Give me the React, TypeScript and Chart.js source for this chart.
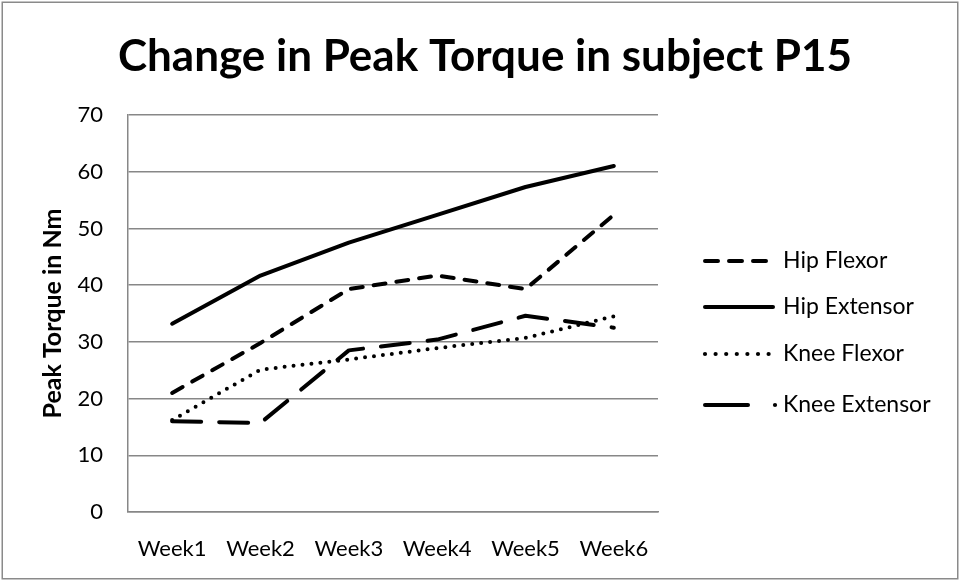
import React, { useEffect, useRef } from "react";
import { Chart, registerables } from "chart.js";

Chart.register(...registerables);

const TITLE = "Change in Peak Torque in subject P15";
const Y_TITLE = "Peak Torque in Nm";
const WEEKS = ["Week1", "Week2", "Week3", "Week4", "Week5", "Week6"];
const SERIES_NAMES = ["Hip Flexor", "Hip Extensor", "Knee Flexor", "Knee Extensor"];
const HIP_FLEXOR = [21.0, 29.8, 39.3, 41.7, 39.3, 52.4];
const HIP_EXTENSOR = [33.2, 41.7, 47.5, 52.4, 57.3, 61.0];
const KNEE_FLEXOR = [16.2, 25.1, 26.9, 28.9, 30.7, 34.5];
const KNEE_EXTENSOR = [16.0, 15.7, 28.5, 30.4, 34.6, 32.5];
const Y_MIN = 0;
const Y_MAX = 70;
const Y_STEP = 10;

const FONT = "Lato, 'Open Sans', sans-serif";
const GRID = "#878787";

const titlePlugin = {
  id: "customTitle",
  afterDraw(chart: any) {
    const ctx = chart.ctx;
    ctx.save();
    ctx.fillStyle = "#000";
    ctx.font = `bold 44px ${FONT}`;
    ctx.textAlign = "center";
    ctx.textBaseline = "alphabetic";
    ctx.fillText(TITLE, 485, 71);
    ctx.restore();
  },
};

const legendPlugin = {
  id: "customLegend",
  afterDraw(chart: any) {
    const ctx = chart.ctx;
    const ys = [261, 307, 354, 405];
    const x0 = 705;
    ctx.save();
    ctx.strokeStyle = "#000";
    ctx.fillStyle = "#000";
    ctx.lineWidth = 4;
    ctx.lineCap = "round";
    chart.data.datasets.forEach((ds: any, i: number) => {
      const y = ys[i];
      ctx.beginPath();
      if (i === 0) {
        ctx.setLineDash([13, 11]);
        ctx.moveTo(x0, y);
        ctx.lineTo(768, y);
        ctx.stroke();
      } else if (i === 1) {
        ctx.setLineDash([]);
        ctx.moveTo(x0, y);
        ctx.lineTo(773, y);
        ctx.stroke();
      } else if (i === 2) {
        ctx.setLineDash([]);
        for (let k = 0; k < 7; k++) {
          ctx.beginPath();
          ctx.arc(x0 + k * 10.6, y, 2.1, 0, Math.PI * 2);
          ctx.fill();
        }
      } else {
        ctx.setLineDash([]);
        ctx.moveTo(x0, y);
        ctx.lineTo(748, y);
        ctx.stroke();
        ctx.beginPath();
        ctx.arc(775, y, 2.1, 0, Math.PI * 2);
        ctx.fill();
      }
      ctx.setLineDash([]);
      ctx.font = `23px ${FONT}`;
      ctx.textBaseline = "middle";
      ctx.textAlign = "left";
      ctx.fillText(ds.label, 783, y);
    });
    ctx.restore();
  },
};

const framePlugin = {
  id: "frame",
  beforeDraw(chart: any) {
    const ctx = chart.ctx;
    ctx.save();
    ctx.fillStyle = "#fff";
    ctx.fillRect(0, 0, chart.width, chart.height);
    ctx.restore();
  },
  afterDraw(chart: any) {
    const ctx = chart.ctx;
    ctx.save();
    ctx.strokeStyle = "#8a8a8a";
    ctx.lineWidth = 1.5;
    ctx.strokeRect(2.25, 2.25, 955.5, 576.5);
    ctx.restore();
  },
};

export default function App() {
  const ref = useRef<HTMLCanvasElement | null>(null);

  useEffect(() => {
    if (!ref.current) return;
    const base = {
      borderColor: "#000",
      backgroundColor: "#000",
      borderWidth: 4,
      pointRadius: 0,
      pointHoverRadius: 0,
      tension: 0,
      fill: false,
      borderCapStyle: "round" as const,
      borderJoinStyle: "round" as const,
    };
    const chart = new Chart(ref.current, {
      type: "line",
      data: {
        labels: WEEKS,
        datasets: [
          { ...base, label: SERIES_NAMES[0], data: HIP_FLEXOR, borderDash: [12, 11] },
          { ...base, label: SERIES_NAMES[1], data: HIP_EXTENSOR },
          { ...base, label: SERIES_NAMES[2], data: KNEE_FLEXOR, borderDash: [0, 9] },
          { ...base, label: SERIES_NAMES[3], data: KNEE_EXTENSOR, borderDash: [29, 18] },
        ],
      },
      options: {
        responsive: false,
        animation: false,
        layout: { padding: { left: 0, right: 303, top: 115, bottom: 0 } },
        plugins: {
          legend: { display: false },
          tooltip: { enabled: false },
          title: { display: false },
        },
        scales: {
          x: {
            type: "category",
            offset: true,
            grid: { display: false, drawTicks: false },
            border: { display: true, color: GRID, width: 1.5 },
            ticks: { color: "#000", font: { family: FONT, size: 22 }, padding: 24, maxRotation: 0, autoSkip: false },
            afterFit(scale: any) {
              scale.height = 69;
            },
          },
          y: {
            min: Y_MIN,
            max: Y_MAX,
            grid: { color: GRID, lineWidth: 1.5, drawTicks: false },
            border: { display: true, color: GRID, width: 1.5 },
            ticks: { stepSize: Y_STEP, color: "#000", font: { family: FONT, size: 22 }, padding: 25 },
            title: {
              display: true,
              text: Y_TITLE,
              color: "#000",
              font: { family: FONT, size: 25, weight: "bold", lineHeight: 1.2 },
              padding: { top: 38, bottom: 0 },
            },
            afterFit(scale: any) {
              scale.width = 128;
            },
          },
        },
      },
      plugins: [framePlugin, titlePlugin, legendPlugin],
    });
    return () => chart.destroy();
  }, []);

  return (
    <div style={{ position: "absolute", left: 0, top: 0, width: 961, height: 581 }}>
      <canvas ref={ref} width={961} height={581} style={{ display: "block" }} />
    </div>
  );
}
